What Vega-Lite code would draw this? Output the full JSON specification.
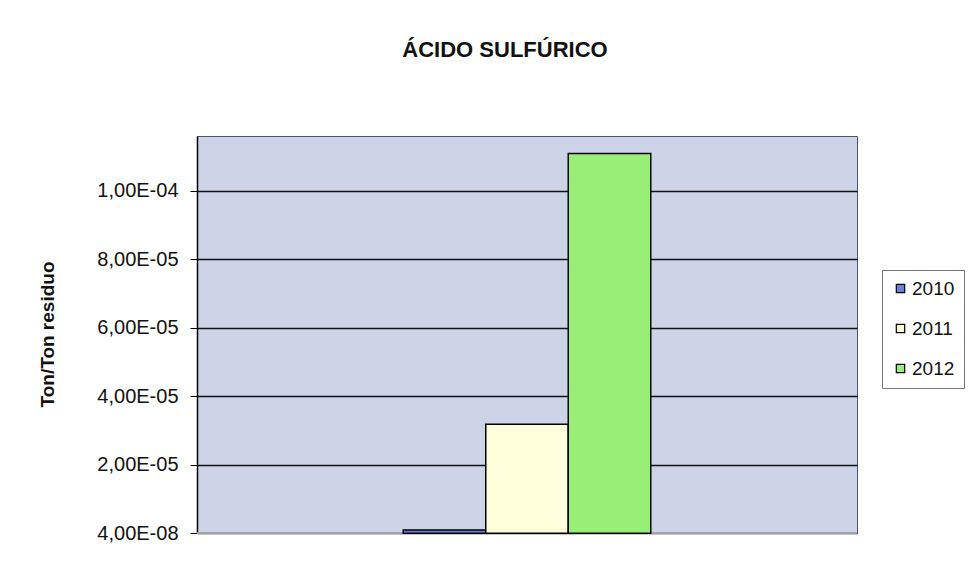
{
  "$schema": "https://vega.github.io/schema/vega-lite/v6.json",
  "autosize": {"type": "none"},
  "width": 660,
  "height": 397,
  "padding": {"left": 197, "top": 136, "right": 116, "bottom": 54},
  "background": "#ffffff",
  "title": {
    "text": "ÁCIDO SULFÚRICO",
    "anchor": "middle",
    "frame": "group",
    "dx": -22,
    "offset": 74,
    "font": "Liberation Sans",
    "fontSize": 22,
    "fontWeight": "bold",
    "color": "#111111"
  },
  "data": {
    "values": [
      {"year": "2010", "value": 9e-7},
      {"year": "2011", "value": 3.18e-5},
      {"year": "2012", "value": 1.109e-4}
    ]
  },
  "layer": [
    {
      "mark": {"type": "rule", "color": "#a0a4ad", "strokeWidth": 1.5},
      "encoding": {"y": {"datum": 4e-8, "type": "quantitative"}}
    },
    {
      "mark": {"type": "bar", "stroke": "#000000", "strokeWidth": 1.5},
      "encoding": {
        "x": {
          "field": "year",
          "type": "nominal",
          "scale": {"domain": ["s1", "s2", "2010", "2011", "2012", "s3", "s4"], "paddingInner": 0, "paddingOuter": 0.5},
          "axis": {"labels": false, "ticks": false, "domain": false, "grid": false, "title": null}
        },
        "y": {
          "field": "value",
          "type": "quantitative",
          "scale": {"domain": [4e-8, 1.16e-4], "zero": false, "nice": false},
          "axis": {
            "values": [4e-8, 2e-5, 4e-5, 6e-5, 8e-5, 1e-4],
            "labelExpr": "['4,00E-08','2,00E-05','4,00E-05','6,00E-05','8,00E-05','1,00E-04'][round(datum.value / 2e-5)]",
            "title": "Ton/Ton residuo",
            "titleX": -140,
            "titleY": 198,
            "titleFontSize": 19,
            "titleFontWeight": "bold",
            "titleColor": "#111111",
            "labelFontSize": 20,
            "labelColor": "#111111",
            "labelPadding": 12,
            "tickSize": 7,
            "tickColor": "#000000",
            "domainColor": "#000000",
            "domainWidth": 1.5,
            "grid": true,
            "gridColor": "#111111",
            "gridWidth": 1.5
          }
        },
        "color": {
          "field": "year",
          "type": "nominal",
          "scale": {"domain": ["2010", "2011", "2012"], "range": ["#6a80d8", "#ffffdc", "#99ee77"]},
          "legend": {
            "title": null,
            "orient": "none",
            "legendX": 685,
            "legendY": 134,
            "symbolType": "square",
            "symbolSize": 70,
            "symbolStrokeColor": "#000000",
            "symbolStrokeWidth": 1.2,
            "symbolOpacity": 1,
            "labelFontSize": 19,
            "labelColor": "#111111",
            "labelOffset": 2,
            "rowPadding": 20,
            "padding": 9,
            "strokeColor": "#777777",
            "fillColor": "#ffffff"
          }
        }
      }
    }
  ],
  "config": {
    "font": "Liberation Sans",
    "view": {"fill": "#cdd4e8", "stroke": "#4a5570", "strokeWidth": 1}
  }
}
